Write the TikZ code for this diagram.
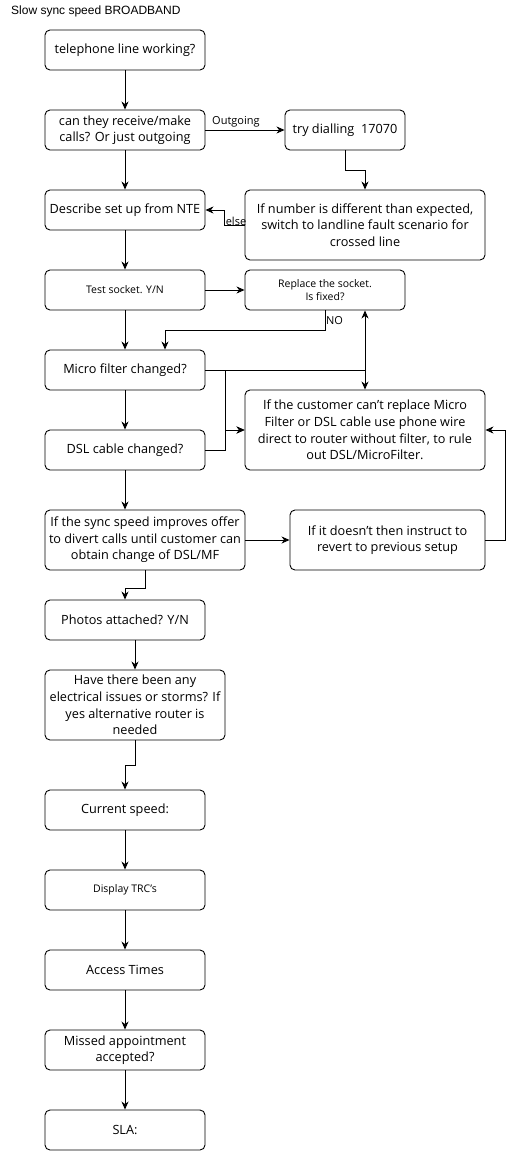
\documentclass[tikz,border=0pt]{standalone}
\usepackage{fontspec}
\setmainfont{Open Sans}
\newfontfamily\titlefont{Liberation Sans}
\usetikzlibrary{arrows.meta}
\begin{document}
\begin{tikzpicture}[x=1pt,y=-1pt,
  box/.style={draw, line width=0.9pt, rounded corners=5pt, align=center,
    inner sep=2pt, font=\fontsize{12.7}{16.6}\selectfont},
  smallbox/.style={box, font=\fontsize{10.5}{13.3}\selectfont},
  arr/.style={draw, line width=0.9pt, -{Stealth[length=8pt,width=7pt,inset=2.5pt]}},
  lbl/.style={font=\fontsize{11}{14}\selectfont, inner sep=0pt}]
\useasboundingbox (0,0) rectangle (514,1151);

\node[anchor=west, font=\titlefont\fontsize{12}{14}\selectfont, inner sep=0pt] (title) at (11,11) {Slow sync speed BROADBAND};

% process boxes
\node[box, minimum width=160pt, minimum height=40pt] (A) at (125,50) {telephone line working?};
\node[box, minimum width=160pt, minimum height=40pt] (B) at (125,130) {can they receive/make\\calls? Or just outgoing};
\node[box, minimum width=120pt, minimum height=40pt] (C) at (345,130) {try dialling\ \ 17070};
\node[box, minimum width=160pt, minimum height=40pt] (D) at (125,210) {Describe set up from NTE};
\node[box, minimum width=240pt, minimum height=70pt] (E) at (365,225) {If number is different than expected,\\switch to landline fault scenario for\\crossed line};
\node[smallbox, minimum width=160pt, minimum height=40pt] (F) at (125,290) {Test socket. Y/N};
\node[smallbox, minimum width=160pt, minimum height=40pt] (G) at (325,290) {Replace the socket.\\Is fixed?};
\node[box, minimum width=160pt, minimum height=40pt] (H) at (125,370) {Micro filter changed?};
\node[box, minimum width=240pt, minimum height=80pt] (I) at (365,430) {If the customer can't replace Micro\\Filter or DSL cable use phone wire\\direct to router without filter, to rule\\out DSL/MicroFilter.};
\node[box, minimum width=160pt, minimum height=40pt] (J) at (125,450) {DSL cable changed?};
\node[box, minimum width=200pt, minimum height=60pt] (K) at (145,540) {If the sync speed improves offer\\to divert calls until customer can\\obtain change of DSL/MF};
\node[box, minimum width=195pt, minimum height=60pt] (L) at (387.5,540) {If it doesn’t then instruct to\\revert to previous setup};
\node[box, minimum width=160pt, minimum height=40pt] (M) at (125,620) {Photos attached? Y/N};
\node[box, minimum width=180pt, minimum height=70pt] (N) at (135,705) {Have there been any\\electrical issues or storms? If\\yes alternative router is\\needed};
\node[box, minimum width=160pt, minimum height=40pt] (O) at (125,810) {Current speed:};
\node[smallbox, minimum width=160pt, minimum height=40pt] (P) at (125,890) {Display TRC's};
\node[box, minimum width=160pt, minimum height=40pt] (Q) at (125,970) {Access Times};
\node[box, minimum width=160pt, minimum height=40pt] (R) at (125,1050) {Missed appointment\\accepted?};
\node[box, minimum width=160pt, minimum height=40pt] (S) at (125,1130) {SLA:};

% connectors
\draw[arr] (A) -- (B);
\draw[arr] (B) -- (C);
\node[lbl, anchor=south west] (outlbl) at (212,127) {Outgoing};
\draw[arr] (B) -- (D);
\draw[arr] (C.south) -- ++(0,20) -| (E.north);
\draw[arr] (E.west) -- ++(-20,0) |- (D.east);
\node[lbl, anchor=south] (elselbl) at (236,226) {else};
\draw[arr] (D) -- (F);
\draw[arr] (F) -- (G);
\draw[arr] (F) -- (H);
\draw[arr] (G.south) -- ++(0,20) -| ([xshift=40pt]H.north);
\node[lbl, anchor=west] (nolbl) at (326,321) {NO};
\draw[arr] (H.east) -| ([xshift=40pt]G.south);
\draw[arr] (H.east) -| (I.north);
\draw[arr] (H.east) -- ++(20,0) |- (I.west);
\draw[arr] (J.east) -- ++(20,0) |- (I.west);
\draw[arr] (H) -- (J);
\draw[arr] (J.south) -- (J.south |- K.north);
\draw[arr] (K) -- (L);
\draw[arr] (L.east) -- ++(20,0) |- (I.east);
\draw[arr] (K.south) -- ++(0,18) -| (M.north);
\draw[arr] (M.south -| N.north) -- (N.north);
\draw[arr] (N.south) -- ++(0,25) -| (O.north);
\draw[arr] (O) -- (P);
\draw[arr] (P) -- (Q);
\draw[arr] (Q) -- (R);
\draw[arr] (R) -- (S);
\end{tikzpicture}
\end{document}
